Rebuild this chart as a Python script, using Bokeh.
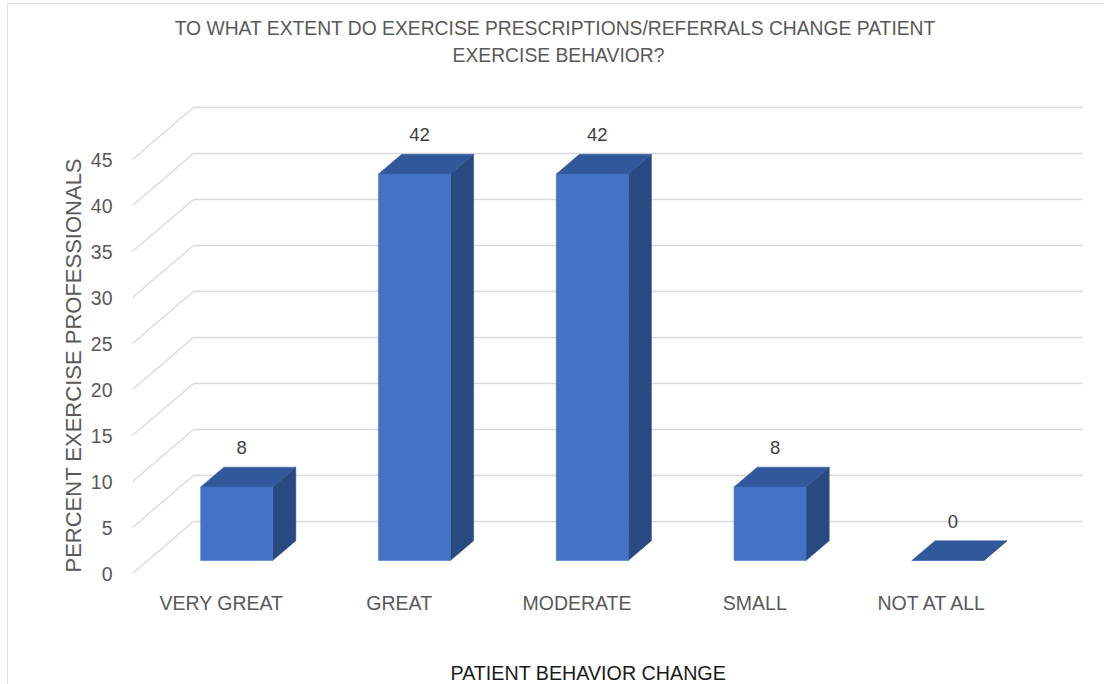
from bokeh.core.properties import value
from bokeh.embed import file_html
from bokeh.models import FixedTicker, Range1d, Title
from bokeh.plotting import figure
from bokeh.resources import INLINE

# ---- data ----
categories = ["VERY GREAT", "GREAT", "MODERATE", "SMALL", "NOT AT ALL"]
percent = [8, 42, 42, 8, 0]
y_ticks = [0, 5, 10, 15, 20, 25, 30, 35, 40, 45]

title_lines = ["TO WHAT EXTENT DO EXERCISE PRESCRIPTIONS/REFERRALS  CHANGE PATIENT",
               "EXERCISE BEHAVIOR?"]
x_title = "PATIENT BEHAVIOR CHANGE"
y_title = "PERCENT EXERCISE PROFESSIONALS"

# ---- layout (pixels) ----
W, H = 1104, 684
FL = 132                 # left edge of the plotting area (front plane x origin)
BASE = 573               # screen row of the front-plane zero line
SLOT_PX = 177.8          # width of one category slot
UNIT_PX = 9.2            # pixels per percent
WALL_RIGHT = 1082        # right end of the back wall

def px_x(px):
    return (px - FL) / SLOT_PX

def px_y(py):
    return (BASE - py) / UNIT_PX

# oblique depth of the 3-D box, in data units
DX = 61 / SLOT_PX
DY = 52 / UNIT_PX
F0, F1 = 0.25, 0.63      # bar front / back depth fractions
BAR_W = 0.405

FONT = "Liberation Sans"
GRAY = "#595959"
GRID = "#d9d9d9"
FRONT, TOP, SIDE = "#4472C4", "#31589A", "#294A80"

p = figure(width=W, height=H,
           x_range=Range1d(px_x(FL), px_x(W)), y_range=Range1d(px_y(H), px_y(0)),
           output_backend="svg", toolbar_location=None, title=None,
           x_axis_location=None,
           min_border_left=FL, min_border_right=0, min_border_top=0, min_border_bottom=0)
p.outline_line_color = None
p.grid.visible = False
# transparent canvas so the chart-area frame drawn by CSS shows through
p.background_fill_color = None
p.border_fill_color = None
p.styles = {
    "background": ("linear-gradient(#dedede, #dedede) 7px 3px / 1px 100% no-repeat, "
                   "linear-gradient(#dedede, #dedede) 7px 3px / 100% 1px no-repeat, white"),
}

# value axis
yax = p.yaxis[0]
yax.ticker = FixedTicker(ticks=y_ticks)
yax.axis_line_color = None
yax.major_tick_line_color = None
yax.minor_tick_line_color = None
yax.major_label_text_font = FONT
yax.major_label_text_font_size = "19.5px"
yax.major_label_text_color = GRAY
yax.major_label_standoff = 14

# value-axis title, starting near the bottom of the axis
p.add_layout(Title(text=y_title, align="left", offset=H - 572, standoff=4,
                   text_font=FONT, text_font_size="22px", text_font_style="normal",
                   text_color=GRAY), "left")

x_end = px_x(WALL_RIGHT)

# walls: left side diagonals and back-wall horizontals
p.multi_line(xs=[[0, DX] for _ in y_ticks], ys=[[v, v + DY] for v in y_ticks],
             line_color=GRID, line_width=1.3)
p.multi_line(xs=[[DX, x_end] for _ in y_ticks], ys=[[v + DY, v + DY] for v in y_ticks],
             line_color=GRID, line_width=1.3)

# 3-D bars
centers = [i + 0.5 for i in range(len(categories))]
front_x, front_y, top_x, top_y, side_x, side_y = [], [], [], [], [], []
for c, v in zip(centers, percent):
    x0, x1 = c - BAR_W / 2, c + BAR_W / 2
    ax0, ay0 = F0 * DX, F0 * DY
    ax1, ay1 = F1 * DX, F1 * DY
    front_x.append([x0 + ax0, x1 + ax0, x1 + ax0, x0 + ax0])
    front_y.append([ay0, ay0, v + ay0, v + ay0])
    top_x.append([x0 + ax0, x1 + ax0, x1 + ax1, x0 + ax1])
    top_y.append([v + ay0, v + ay0, v + ay1, v + ay1])
    side_x.append([x1 + ax0, x1 + ax1, x1 + ax1, x1 + ax0])
    side_y.append([ay0, ay1, v + ay1, v + ay0])

p.patches(side_x, side_y, fill_color=SIDE, line_color=SIDE, line_width=0.5)
p.patches(top_x, top_y, fill_color=TOP, line_color=TOP, line_width=0.5)
p.patches(front_x, front_y, fill_color=FRONT, line_color=FRONT, line_width=0.5)

# value labels
p.text(x=[c + F0 * DX for c in centers], y=[v + F1 * DY for v in percent],
       text=[str(v) for v in percent], text_align="center", text_baseline="bottom",
       x_offset=5, y_offset=-13, text_font=value(FONT), text_font_size="18.5px",
       text_color="#404040")

# category labels under the front plane
p.text(x=centers, y=[px_y(602)] * len(categories), text=categories,
       text_align="center", text_baseline="middle", text_font=value(FONT),
       text_font_size="19.5px", text_color=GRAY)

# category-axis title
p.text(x=[px_x(450)], y=[px_y(672)], text=[x_title], text_align="left",
       text_baseline="middle", text_font=value(FONT), text_font_size="19.7px",
       text_color="#1a1a1a")

# chart title, two centred lines
p.text(x=[px_x(557.5), px_x(558)], y=[px_y(28), px_y(55)], text=title_lines,
       text_align="center", text_baseline="middle", text_font=value(FONT),
       text_font_size="19.3px", text_color=GRAY)

open("out.html", "w").write(file_html(p, INLINE))
